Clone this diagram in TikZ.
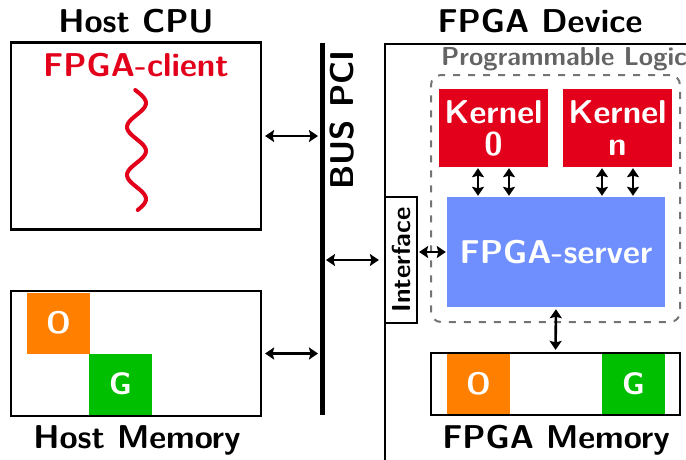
\documentclass[tikz,border=0pt]{standalone}
\usetikzlibrary{arrows.meta}
\definecolor{kred}{RGB}{226,0,26}
\definecolor{dorange}{RGB}{255,128,0}
\definecolor{dgreen}{RGB}{0,190,0}
\definecolor{sblue}{RGB}{111,143,255}
\definecolor{plgray}{RGB}{100,100,100}
\begin{document}
\begin{tikzpicture}[x=1pt,y=-1pt,
  box/.style={draw,line width=2.2pt,inner sep=0pt},
  blk/.style={fill=#1,text=white,inner sep=0pt,font=\fontsize{31}{32}\sffamily\bfseries\selectfont},
  bold/.style={font=\fontsize{33}{32}\sffamily\bfseries\selectfont},
  ttl/.style={bold,anchor=base},
  link/.style={line width=2.6pt,{Stealth[length=9pt,width=12pt,inset=1.5pt]}-{Stealth[length=9pt,width=12pt,inset=1.5pt]}}]
\useasboundingbox (0,0) rectangle (686,459);
\clip (0,0) rectangle (686,459);

\node[box,minimum width=250,minimum height=187] (cpu) at (136,136) {};
\node[ttl] (cputitle) at (136,32) {Host CPU};
\node[ttl,text=kred] (client) at (136,76) {FPGA-client};
\draw[kred,line width=4pt,line cap=round,smooth,domain=90:210,samples=60] plot ({136.5+9.5*sin(7.5*(\x-91))},\x);

\node[blk=dorange,minimum width=63,minimum height=61] (ho) at (58.5,323) {O};
\node[blk=dgreen,minimum width=63,minimum height=61] (hg) at (120.5,384) {G};
\node[box,minimum width=250,minimum height=125] (hmem) at (136,353.5) {};
\node[ttl] (hmemtitle) at (137,448) {Host Memory};

\coordinate (bustop) at (322,43);
\coordinate (busbot) at (322,415);
\draw[line width=5pt] (bustop) -- (busbot);
\node[bold,rotate=90,anchor=base] (buslabel) at (353,120) {BUS PCI};
\draw[link,shorten <=3pt,shorten >=4pt] (cpu.east) -- (cpu.east -| bustop);
\draw[link,shorten <=3pt,shorten >=4pt] (hmem.east) -- (hmem.east -| bustop);

\node[ttl] (fpgatitle) at (540,32) {FPGA Device};
\node[box,anchor=north west,minimum width=340,minimum height=450] (fpga) at (384,43) {};
\node[anchor=base west,inner sep=0pt,text=plgray,font=\fontsize{26}{30}\sffamily\bfseries\selectfont] (pltitle) at (441,65) {Programmable Logic};
\node[draw=plgray!90,dash pattern=on 7pt off 8pt,line width=2pt,rounded corners=10pt,minimum width=249,minimum height=247] (pl) at (555.5,198.5) {};

\node[blk=kred,bold,align=center,minimum width=109,minimum height=78] (k0) at (493.5,128) {Kernel\\0};
\node[blk=kred,bold,align=center,minimum width=109,minimum height=78] (kn) at (617.5,128) {Kernel\\n};
\node[blk=sblue,bold,minimum width=218,minimum height=110] (server) at (556,252) {FPGA-server};
\foreach \k in {k0,kn}
  \foreach \dx in {-15.5,15.5}
    \draw[link,shorten <=1pt,shorten >=1pt] ([xshift=\dx]\k.south) -- ([xshift=\dx]\k.south |- server.north);

\node[box,fill=white,rotate=90,minimum width=126,minimum height=32,font=\fontsize{26}{30}\sffamily\bfseries\selectfont] (iface) at (401,260) {Interface};
\draw[link,shorten <=4pt,shorten >=5pt] (iface.north -| bustop) -- (iface.north);
\draw[link,shorten <=1pt,shorten >=1pt] (iface.south |- server.west) -- (server.west);

\node[blk=dorange,minimum width=63,minimum height=61] (fo) at (478.5,384) {O};
\node[blk=dgreen,minimum width=63,minimum height=61] (fg) at (633.5,384) {G};
\node[box,minimum width=249,minimum height=62] (fmem) at (555.5,384) {};
\node[ttl] (fmemtitle) at (556,448) {FPGA Memory};
\draw[link,shorten <=2pt,shorten >=2pt] (server.south) -- (fmem.north);
\end{tikzpicture}
\end{document}
